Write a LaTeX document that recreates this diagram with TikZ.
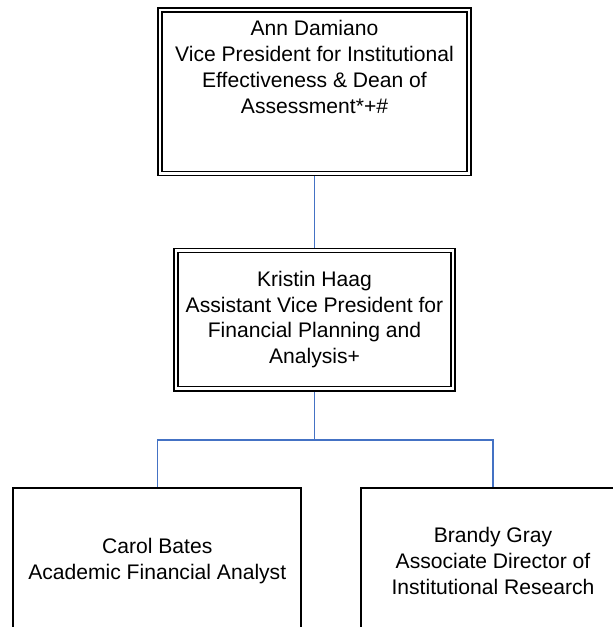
\documentclass[tikz,border=0pt]{standalone}
\usepackage{fontspec}
\setmainfont{Liberation Sans}
\usetikzlibrary{backgrounds}
\definecolor{linkblue}{RGB}{68,114,196}

\tikzset{
  dblbox/.style={draw, double, line width=1.1pt, double distance=1.9pt,
    fill=white, align=center, inner sep=0pt},
  plainbox/.style={draw, line width=1.4pt, fill=white, align=center, inner sep=0pt},
  link/.style={draw=linkblue, line width=1pt}
}

\begin{document}
\begin{tikzpicture}[x=0.025cm, y=-0.025cm, font=\fontsize{15}{18.4}\selectfont]
    \useasboundingbox (0,0) rectangle (613,627);
    \clip (0,0) rectangle (613,627);

    \node[dblbox, minimum width=7.725cm, minimum height=4.0875cm] (ann) at (314.5,91.75) {};
      \node[inner sep=0pt, align=center] (anntext) at (314.5,67)
        {Ann Damiano\\Vice President for Institutional\\Effectiveness \& Dean of\\Assessment*+\#};
    \node[dblbox, minimum width=6.925cm, minimum height=3.455cm] (kristin) at (314.5,319.6)
      {Kristin Haag\\Assistant Vice President for\\Financial Planning and\\Analysis+};
    \node[plainbox, minimum width=7.1875cm, minimum height=3.65cm] (carol) at (157.25,561)
      {Carol Bates\\Academic Financial Analyst};
    \node[plainbox, minimum width=6.6cm, minimum height=3.65cm] (brandy) at (493,561)
      {Brandy Gray\\Associate Director of\\Institutional Research};

    \coordinate (bar) at (314.5,440);
    \begin{scope}[on background layer]
      \draw[link] (ann) -- (kristin);
      \draw[link] (kristin.south) -- (kristin.south |- bar) -| (carol.north);
      \draw[link] (kristin.south |- bar) -| (brandy.north);
    \end{scope}
\end{tikzpicture}
\end{document}
